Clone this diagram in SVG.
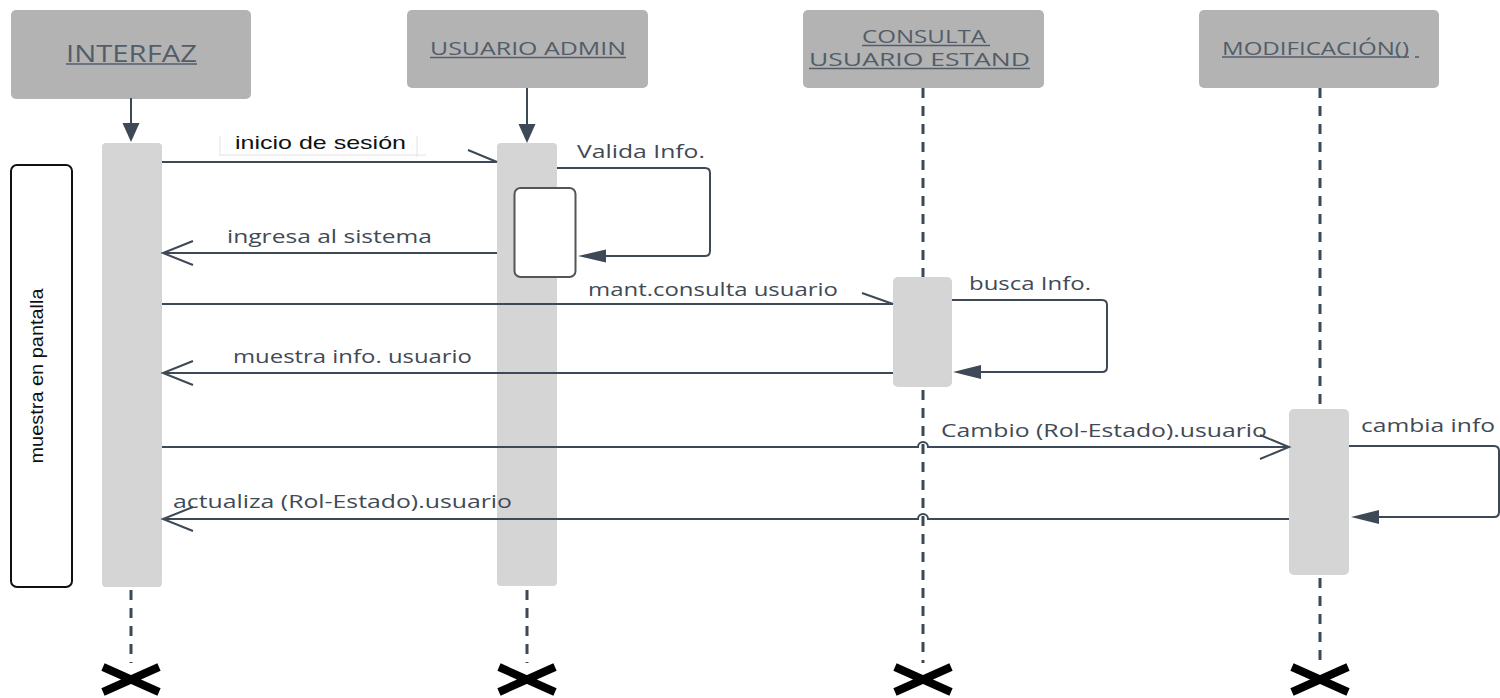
<svg xmlns="http://www.w3.org/2000/svg" width="1500" height="698" viewBox="0 0 1500 698">
<defs>
<style>
.hdr{fill:#b3b3b3;}
.htxt{font-family:"Open Sans","DejaVu Sans",sans-serif;fill:#535d69;}
.ul{stroke:#535d69;stroke-width:1.5;}
.bar{fill:#d5d5d5;}
.msg{stroke:#3d4956;stroke-width:2;fill:none;}
.ah{fill:#3d4956;}
.life{stroke:#3d4956;stroke-width:3;stroke-dasharray:10 8;fill:none;}
.lbl{font-family:"Open Sans","DejaVu Sans",sans-serif;font-size:19px;fill:#3f4a55;}
.xm{stroke:#000;stroke-width:8;}
.faint{stroke:#e2e2e2;stroke-width:1;}
</style>
</defs>
<rect width="1500" height="698" fill="#ffffff"/>

<g id="node-interfaz">
<rect class="hdr" x="11" y="10" width="240" height="89" rx="5"/>
<text class="htxt" x="66" y="62" font-size="23" textLength="131" lengthAdjust="spacingAndGlyphs">INTERFAZ</text>
<line class="ul" x1="66" y1="64" x2="197" y2="64"/>
</g>
<g id="node-usuario-admin">
<rect class="hdr" x="407" y="10" width="241" height="78" rx="5"/>
<text class="htxt" x="430" y="55" font-size="19" textLength="196" lengthAdjust="spacingAndGlyphs">USUARIO ADMIN</text>
<line class="ul" x1="430" y1="57.5" x2="626" y2="57.5"/>
</g>
<g id="node-consulta">
<rect class="hdr" x="803" y="10" width="241" height="78" rx="5"/>
<text class="htxt" x="862" y="43" font-size="19" textLength="124" lengthAdjust="spacingAndGlyphs">CONSULTA</text>
<line class="ul" x1="862" y1="45.5" x2="990" y2="45.5"/>
<text class="htxt" x="809" y="66" font-size="19" textLength="221" lengthAdjust="spacingAndGlyphs">USUARIO ESTAND</text>
<line class="ul" x1="809" y1="68.5" x2="1030" y2="68.5"/>
</g>
<g id="node-modificacion">
<rect class="hdr" x="1199" y="10" width="240" height="78" rx="5"/>
<text class="htxt" x="1222" y="55" font-size="19" textLength="187" lengthAdjust="spacingAndGlyphs">MODIFICACIÓN()</text>
<line class="ul" x1="1222" y1="57" x2="1409" y2="57"/>
<line class="ul" x1="1415" y1="57" x2="1419" y2="57"/>
</g>

<g id="frame-muestra">
<rect x="11" y="165" width="61" height="422" rx="6" fill="#ffffff" stroke="#111111" stroke-width="2"/>
<text transform="translate(43,376) rotate(-90)" text-anchor="middle" font-family="'Liberation Sans',Arial,sans-serif" font-size="18" fill="#111111" textLength="175" lengthAdjust="spacingAndGlyphs">muestra en pantalla</text>
</g>

<g id="lifelines">
<line class="msg" x1="131" y1="98" x2="131" y2="126"/>
<polygon class="ah" points="122.5,123 139.5,123 131,142"/>
<line class="msg" x1="527" y1="88" x2="527" y2="126"/>
<polygon class="ah" points="518.5,124 535.5,124 527,143"/>
<line class="life" x1="923" y1="88" x2="923" y2="277"/>
<line class="life" x1="923" y1="390" x2="923" y2="663"/>
<line class="life" x1="1320" y1="88" x2="1320" y2="409"/>
<line class="life" x1="1320" y1="578" x2="1320" y2="663"/>
<line class="life" x1="131" y1="590" x2="131" y2="663"/>
<line class="life" x1="527" y1="590" x2="527" y2="663"/>
</g>

<g id="activations">
<rect class="bar" x="102" y="143" width="60" height="444" rx="4"/>
<rect class="bar" x="497" y="143" width="60" height="443" rx="4"/>
<rect x="514.5" y="188" width="61" height="89" rx="6" fill="#ffffff" stroke="#555555" stroke-width="2"/>
<rect class="bar" x="893" y="277" width="59" height="110" rx="5"/>
<rect class="bar" x="1289" y="409" width="60" height="166" rx="5"/>
</g>

<g id="connectors">
<!-- inicio de sesión -->
<line class="faint" x1="220" y1="136" x2="220" y2="156"/>
<line class="faint" x1="417" y1="136" x2="417" y2="157"/>
<line class="faint" x1="220" y1="155" x2="426" y2="155"/>
<path class="msg" d="M162 162 H497 M468 150 L497 162"/>
<!-- Valida Info. -->
<path class="msg" d="M557 168 H705 Q710 168 710 173 V251 Q710 256 705 256 H600"/>
<polygon class="ah" points="578,256 606,249.5 606,262.5"/>
<!-- ingresa al sistema -->
<path class="msg" d="M497 253 H163 M193 241 L163 253 L193 265"/>
<!-- mant.consulta usuario -->
<path class="msg" d="M162 304 H893 M862 293 L893 304"/>
<!-- busca Info. -->
<path class="msg" d="M952 300 H1102 Q1107 300 1107 305 V367 Q1107 372 1102 372 H975"/>
<polygon class="ah" points="953,372 981,365 981,379"/>
<!-- muestra info. usuario -->
<path class="msg" d="M893 373 H163 M193 361 L163 373 L193 385"/>
<!-- Cambio -->
<path class="msg" d="M162 447 H918 A5 5 0 0 1 928 447 H1289 M1260 435 L1289 447 L1260 459"/>
<!-- cambia info -->
<path class="msg" d="M1349 446 H1494 Q1499 446 1499 451 V512 Q1499 517 1494 517 H1373"/>
<polygon class="ah" points="1351,517 1379,510 1379,524"/>
<!-- actualiza -->
<path class="msg" d="M1289 519 H928 A5 5 0 0 0 918 519 H163 M193 507 L163 519 L193 531"/>
</g>

<g id="labels">
<text x="235" y="149" font-family="'Liberation Sans',Arial,sans-serif" font-size="19" fill="#111111" textLength="171" lengthAdjust="spacingAndGlyphs">inicio de sesión</text>
<text class="lbl" x="577" y="158" textLength="128" lengthAdjust="spacingAndGlyphs">Valida Info.</text>
<text class="lbl" x="227" y="243" textLength="205" lengthAdjust="spacingAndGlyphs">ingresa al sistema</text>
<text class="lbl" x="588" y="296" textLength="250" lengthAdjust="spacingAndGlyphs">mant.consulta usuario</text>
<text class="lbl" x="969" y="290" textLength="122" lengthAdjust="spacingAndGlyphs">busca Info.</text>
<text class="lbl" x="233" y="363" textLength="239" lengthAdjust="spacingAndGlyphs">muestra info. usuario</text>
<text class="lbl" x="941" y="437" textLength="326" lengthAdjust="spacingAndGlyphs">Cambio (Rol-Estado).usuario</text>
<text class="lbl" x="1361" y="432" textLength="134" lengthAdjust="spacingAndGlyphs">cambia info</text>
<text class="lbl" x="173" y="508" textLength="339" lengthAdjust="spacingAndGlyphs">actualiza (Rol-Estado).usuario</text>
</g>

<g id="destroy-marks">
<path class="xm" d="M103 667 L159 692 M103 692 L159 667"/>
<path class="xm" d="M499 667 L555 692 M499 692 L555 667"/>
<path class="xm" d="M895 667 L951 692 M895 692 L951 667"/>
<path class="xm" d="M1292 667 L1348 692 M1292 692 L1348 667"/>
</g>
</svg>
